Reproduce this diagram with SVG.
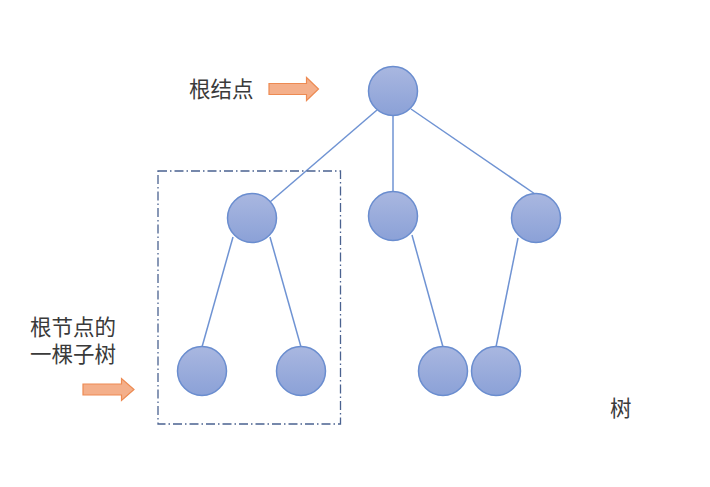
<svg xmlns="http://www.w3.org/2000/svg" width="710" height="487" viewBox="0 0 710 487">
<defs>
<linearGradient id="g" x1="0" y1="0" x2="0" y2="1">
<stop offset="0" stop-color="#A9B7E0"/>
<stop offset="1" stop-color="#8BA1D7"/>
</linearGradient>
<style>
.n{fill:url(#g);stroke:#6A8DCF;stroke-width:1.5}
.e{stroke:#6F93D3;stroke-width:1.5;fill:none}
.t{font-family:"Noto Sans CJK SC","Microsoft YaHei",sans-serif;font-size:21.5px;fill:#3A3A3A}
.a{fill:#F4AF8A;stroke:#ED8A52;stroke-width:1.2}
.box{fill:none;stroke:#4A6290;stroke-width:1.3;stroke-dasharray:9 3 1.5 3}
</style>
</defs>
<rect width="710" height="487" fill="#FFFFFF"/>
<g id="connectors">
<line class="e" x1="377" y1="110" x2="270" y2="202"/>
<line class="e" x1="393" y1="115" x2="393" y2="191"/>
<line class="e" x1="411" y1="109" x2="535" y2="194"/>
<line class="e" x1="233" y1="237" x2="202" y2="347"/>
<line class="e" x1="270" y1="237" x2="301" y2="347"/>
<line class="e" x1="412" y1="235" x2="443" y2="347"/>
<line class="e" x1="518" y1="238" x2="496" y2="347"/>
</g>
<g id="subtree-box"><rect class="box" x="158" y="171" width="182.5" height="253"/></g>
<g id="root"><circle class="n" cx="393" cy="91" r="24.5"/></g>
<g id="n1"><circle class="n" cx="252" cy="218" r="24.5"/></g>
<g id="n2"><circle class="n" cx="393" cy="216" r="24.5"/></g>
<g id="n3"><circle class="n" cx="536" cy="218" r="24.5"/></g>
<g id="n4"><circle class="n" cx="202" cy="371" r="24.5"/></g>
<g id="n5"><circle class="n" cx="301" cy="371" r="24.5"/></g>
<g id="n6"><circle class="n" cx="443" cy="371" r="24.5"/></g>
<g id="n7"><circle class="n" cx="496" cy="371" r="24.5"/></g>
<g id="label-root">
<text class="t" x="189" y="97">根结点</text>
<polygon class="a" points="269,83.5 306.5,83.5 306.5,77.5 318.5,89 306.5,100.5 306.5,94.5 269,94.5"/>
</g>
<g id="label-subtree">
<text class="t" x="30" y="335">根节点的</text>
<text class="t" x="30" y="362">一棵子树</text>
<polygon class="a" points="83,384 121.5,384 121.5,378.5 134,389.5 121.5,400.5 121.5,395 83,395"/>
</g>
<g id="label-tree"><text class="t" x="610" y="416">树</text></g>
</svg>
